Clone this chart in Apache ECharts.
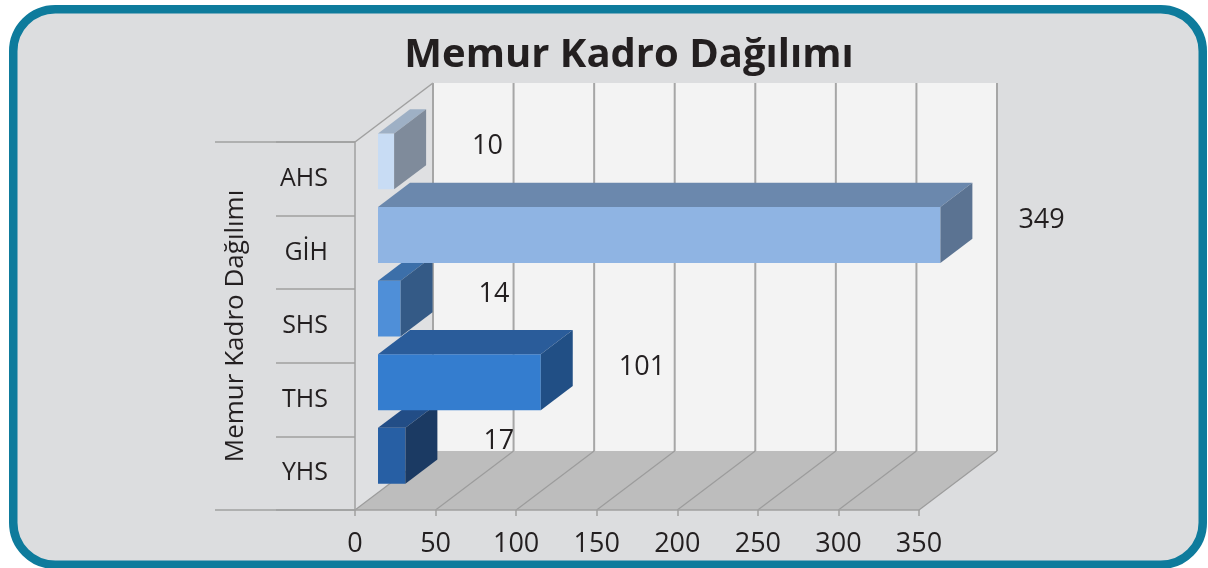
<!DOCTYPE html>
<html>
<head>
<meta charset="utf-8">
<script src="https://cdn.jsdelivr.net/npm/echarts@6/dist/echarts.min.js"></script>
<style>
html, body { margin: 0; padding: 0; background: #fff; }
#chart { width: 1208px; height: 568px; }
</style>
</head>
<body>
<div id="chart"></div>
<script>
const categories = ['AHS', 'GİH', 'SHS', 'THS', 'YHS'];
const values = [10, 349, 14, 101, 17];
const xTicks = [0, 50, 100, 150, 200, 250, 300, 350];

// front / top / side colour of each bar
const faceColors = [
    ['#c8dcf4', '#9eb0c5', '#7f8b9b'],
    ['#8fb4e3', '#6b88ad', '#5b7392'],
    ['#4f8fd8', '#3c6fa9', '#345a86'],
    ['#347dcf', '#2a5c9a', '#214f85'],
    ['#275fa4', '#224d86', '#1b3a63']
];

const DX = 78, DY = -59;        // depth of the 3d box
const D0 = 0.295, D1 = 0.705;   // bar front / back depth
const textColor = '#231f20';
const lineColor = '#a0a0a0';
const font = 'Open Sans';

function renderWalls(params, api) {
    const cs = params.coordSys;
    const l = cs.x, t = cs.y, r = cs.x + cs.width, b = cs.y + cs.height;
    const ls = { stroke: lineColor, lineWidth: 1.5 };
    return {
        type: 'group',
        children: [
            { type: 'polygon', shape: { points: [[l + DX, t + DY], [r + DX, t + DY], [r + DX, b + DY], [l + DX, b + DY]] }, style: { fill: '#f3f3f3' } },
            { type: 'polygon', shape: { points: [[l, t], [l + DX, t + DY], [l + DX, b + DY], [l, b]] }, style: { fill: '#dfe0e2' } },
            { type: 'polygon', shape: { points: [[l, b], [l + DX, b + DY], [r + DX, b + DY], [r, b]] }, style: { fill: '#bdbdbd' } },
            { type: 'line', shape: { x1: l, y1: t, x2: l + DX, y2: t + DY }, style: ls },
            { type: 'line', shape: { x1: l - 140, y1: t, x2: l, y2: t }, style: ls },
            { type: 'line', shape: { x1: l - 140, y1: b, x2: l, y2: b }, style: ls }
        ]
    };
}

function renderGrid(params, api) {
    const cs = params.coordSys;
    const x = api.coord([api.value(0), 0])[0];
    const t = cs.y, b = cs.y + cs.height;
    return {
        type: 'group',
        children: [
            { type: 'line', shape: { x1: x + DX, y1: t + DY, x2: x + DX, y2: b + DY }, style: { stroke: '#a6a6a6', lineWidth: 2 } },
            { type: 'line', shape: { x1: x, y1: b, x2: x + DX, y2: b + DY }, style: { stroke: '#9c9c9c', lineWidth: 1.2 } }
        ]
    };
}

function renderBar(params, api) {
    const idx = params.dataIndex;
    const v = api.value(0);
    const c = api.coord([0, api.value(1)]);
    const e = api.coord([v, api.value(1)]);
    const h = api.size([0, 1])[1] * 0.76;
    const fx = DX * D0, fy = DY * D0;
    const ddx = DX * (D1 - D0), ddy = DY * (D1 - D0);
    const x0 = c[0] + fx, x1 = e[0] + fx;
    const y0 = c[1] - h / 2 + fy, y1 = c[1] + h / 2 + fy;
    const col = faceColors[idx];
    const z = (categories.length - idx) * 10;
    return {
        type: 'group',
        children: [
            { type: 'rect', z2: z, shape: { x: x0, y: y0, width: x1 - x0, height: y1 - y0 }, style: { fill: col[0] } },
            { type: 'polygon', z2: z + 1, shape: { points: [[x0, y0], [x0 + ddx, y0 + ddy], [x1 + ddx, y0 + ddy], [x1, y0]] }, style: { fill: col[1] } },
            { type: 'polygon', z2: z + 2, shape: { points: [[x1, y0], [x1 + ddx, y0 + ddy], [x1 + ddx, y1 + ddy], [x1, y1]] }, style: { fill: col[2] } },
            {
                type: 'text', z2: 100, x: e[0] + DX * 0.5 + 62, y: c[1] - 32,
                style: { text: String(v), fill: textColor, fontSize: 27, fontFamily: font, align: 'left', verticalAlign: 'middle' }
            }
        ]
    };
}

const chart = echarts.init(document.getElementById('chart'));
chart.setOption({
    animation: false,
    backgroundColor: '#ffffff',
    graphic: [
        {
            type: 'rect', z: -100,
            shape: { x: 13.25, y: 9.25, width: 1189.5, height: 555.5, r: 42 },
            style: { fill: '#dcdddf', stroke: '#0e7b9c', lineWidth: 8.5 }
        },
        {
            type: 'text', z: 100, x: 629, y: 56,
            style: { text: 'Memur Kadro Dağılımı', fill: textColor, fontSize: 40, fontWeight: 'bold', fontFamily: font, align: 'center', verticalAlign: 'middle' }
        }
    ],
    grid: { left: 355, right: 289, top: 142, bottom: 58 },
    xAxis: {
        type: 'value',
        min: 0,
        max: 350,
        interval: 50,
        splitLine: { show: false },
        axisLine: { show: true, lineStyle: { color: lineColor, width: 1.5 } },
        axisTick: { show: true, length: 6, lineStyle: { color: lineColor, width: 1.5 } },
        axisLabel: { fontSize: 27, color: textColor, fontFamily: font, margin: 21 },
        data: xTicks
    },
    yAxis: {
        type: 'category',
        data: categories,
        inverse: true,
        axisLine: { show: true, lineStyle: { color: lineColor, width: 1.5 } },
        axisTick: { show: true, length: 79, lineStyle: { color: lineColor, width: 1.5 } },
        axisLabel: { fontSize: 25, color: textColor, fontFamily: font, margin: 27 },
        name: 'Memur Kadro Dağılımı',
        nameLocation: 'middle',
        nameRotate: 90,
        nameGap: 106,
        nameTextStyle: { fontSize: 26, color: textColor, fontFamily: font }
    },
    series: [
        { type: 'custom', z: -2, renderItem: renderWalls, data: [[0, 0]], silent: true },
        { type: 'custom', z: -1, renderItem: renderGrid, data: xTicks.map(v => [v, 0]), silent: true },
        { type: 'custom', z: 2, renderItem: renderBar, data: categories.map((c, i) => [values[i], i]) }
    ]
});
</script>
</body>
</html>
